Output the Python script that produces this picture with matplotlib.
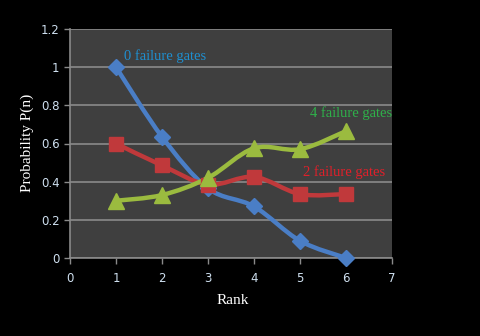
import numpy as np
import matplotlib.pyplot as plt
from matplotlib.path import Path
from matplotlib.patches import PathPatch

rank = [1, 2, 3, 4, 5, 6]
p_zero = [1.0, 0.635, 0.365, 0.27, 0.09, 0.0]
p_two = [0.60, 0.485, 0.385, 0.425, 0.335, 0.335]
p_four = [0.30, 0.33, 0.42, 0.575, 0.57, 0.665]

series = [
    ("0 failure gates", p_zero, "#4a7ec6", "D", 8, "#1f8fd0", (1.17, 1.06)),
    ("2 failure gates", p_two, "#c0393b", "s", 10, "#e0202a", (5.07, 0.45)),
    ("4 failure gates", p_four, "#9bbb3f", "^", 11, "#2fb04a", (5.22, 0.76)),
]


def smooth_path(x, y, t=0.5):
    # catmull-rom style bezier through the points (like excel smoothed lines)
    x = np.asarray(x, float)
    y = np.asarray(y, float)
    verts = [(x[0], y[0])]
    codes = [Path.MOVETO]
    n = len(x)
    for i in range(n - 1):
        x0, y0 = (x[i - 1], y[i - 1]) if i > 0 else (x[i], y[i])
        x3, y3 = (x[i + 2], y[i + 2]) if i + 2 < n else (x[i + 1], y[i + 1])
        c1 = (x[i] + (x[i + 1] - x0) * t / 3, y[i] + (y[i + 1] - y0) * t / 3)
        c2 = (x[i + 1] - (x3 - x[i]) * t / 3, y[i + 1] - (y3 - y[i]) * t / 3)
        verts += [c1, c2, (x[i + 1], y[i + 1])]
        codes += [Path.CURVE4] * 3
    return Path(verts, codes)


fig = plt.figure(figsize=(4.8, 3.36), dpi=100, facecolor="black")
ax = fig.add_axes([70 / 480, 1 - 258 / 336, 322 / 480, 229 / 336])
ax.set_facecolor("#3f3f3f")

for label, vals, col, mk, ms, tcol, pos in series:
    ax.add_patch(PathPatch(smooth_path(rank, vals), facecolor="none",
                           edgecolor=col, lw=3.2, zorder=3, capstyle="round"))
    ax.plot(rank, vals, ls="none", marker=mk, ms=ms, color=col,
            markeredgecolor=col, zorder=4, clip_on=False)
    ax.text(pos[0], pos[1], label, color=tcol, fontsize=10.5,
            family="Liberation Serif", va="center", ha="left")

ax.set_xlim(0, 7)
ax.set_ylim(0, 1.2)
ax.set_xticks(range(0, 8))
ax.set_yticks([0, 0.2, 0.4, 0.6, 0.8, 1.0, 1.2])
ax.set_yticklabels(["0", "0.2", "0.4", "0.6", "0.8", "1", "1.2"])
ax.grid(axis="y", color="#8a8a8a", lw=1.2)
ax.set_axisbelow(True)
for s in ["top", "right"]:
    ax.spines[s].set_visible(False)
for s in ["left", "bottom"]:
    ax.spines[s].set_color("#8a8a8a")
    ax.spines[s].set_linewidth(1.2)
ax.tick_params(colors="#8a8a8a", labelcolor="#cfe0f0", labelsize=8.5,
               length=4, width=1)
ax.tick_params(axis="x", pad=6)

fig.text(233 / 480, 1 - 300 / 336, "Rank", color="white", fontsize=11,
         family="Liberation Serif", ha="center", va="center")
fig.text(27 / 480, 1 - 143 / 336, "Probability P(n)", color="white", fontsize=11,
         family="Liberation Serif", ha="center", va="center", rotation=90)

fig.savefig("out.png", dpi=100, facecolor="black")
